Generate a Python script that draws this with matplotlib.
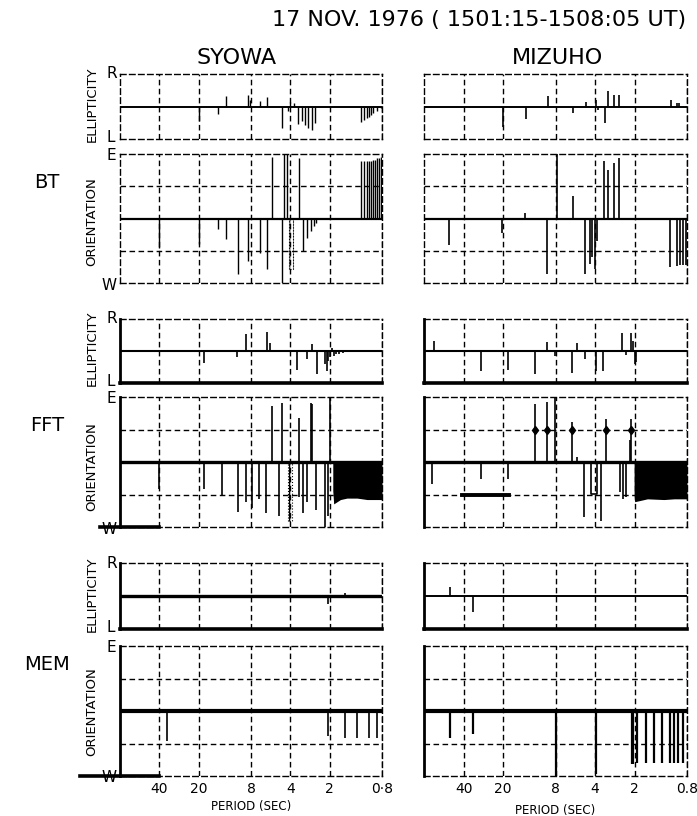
import matplotlib
matplotlib.use("Agg")
import matplotlib.pyplot as plt
from matplotlib.ticker import NullLocator

W_PX, H_PX = 697, 816

PERIOD_TICKS = [40, 20, 8, 4, 2, 0.8]
TICK_LABELS_SY = ["40", "20", "8", "4", "2", "0·8"]
TICK_LABELS_MZ = ["40", "20", "8", "4", "2", "0.8"]

# ---- BT ----
SY_BT_ELL_P = [20, 14.3, 12.5, 8.4, 8.1, 6.8, 6.05, 4.65, 4.14, 4.0, 3.79, 3.53, 3.27, 3.09,
               2.94, 2.74, 2.59, 1.15, 1.10, 1.05, 1.01, 0.97, 0.93, 0.87, 0.82]
SY_BT_ELL_V = [-0.46, -0.24, 0.31, 0.34, 0.2, 0.18, 0.28, -0.65, -0.15, 0.15, 0.1, -0.55, -0.44,
               -0.57, -0.67, -0.72, -0.52, -0.48, -0.41, -0.36, -0.31, -0.26, -0.21, -0.13, -0.05]
SY_BT_ORI_P = [5.55, 4.44, 4.26, 3.47, 1.15, 1.10, 1.05, 1.01, 0.97, 0.93, 0.90, 0.87, 0.85,
               0.82, 0.80, 40, 20, 14.3, 12.5, 10, 8.4, 6.8, 6.05, 4.65, 3.21, 3.0, 2.78, 2.65, 2.55]
SY_BT_ORI_V = [86, 90, 90, 85, 80, 80, 80, 80, 80, 82, 82, 84, 84, 86, 86,
               -41, -36, -15, -28, -78, -59, -48, -71, -90, -45, -27, -18, -10, -6]
SY_BT_HATCH = [4.1, 3.85, -71]

MZ_BT_ELL_P = [20, 13.4, 9.15, 5.9, 4.67, 3.92, 3.8, 3.39, 3.21, 2.85, 2.65, 1.06, 0.96, 0.92]
MZ_BT_ELL_V = [-0.64, -0.39, 0.33, -0.2, 0.15, 0.2, -0.12, -0.52, 0.49, 0.36, 0.36, 0.19, 0.12, 0.1]
MZ_BT_ORI_P = [13.6, 7.83, 5.94, 3.40, 3.21, 2.86, 2.65, 51.3, 20.5, 9.3, 4.75, 4.35, 4.2, 4.04,
               3.88, 1.07, 0.96, 0.91, 0.86, 0.82]
MZ_BT_ORI_V = [8, 90, 32, 80, 68, 78, 85, -37, -20, -78, -78, -63, -54, -71, -32,
               -68, -66, -65, -65, -65]

# ---- FFT ----
SY_FFT_ELL_P = [18.4, 10.2, 8.76, 6.05, 5.7, 3.57, 3.0, 2.74, 2.51, 2.17, 2.1, 2.05, 1.98,
                1.92, 1.85, 1.78, 1.7, 1.6]
SY_FFT_ELL_V = [-0.39, -0.2, 0.52, 0.59, 0.26, -0.59, -0.26, 0.21, -0.73, -0.42, -0.62, -0.3,
                -0.2, 0.1, -0.15, -0.1, -0.08, -0.05]
SY_FFT_ORI_P = [5.55, 4.65, 3.47, 2.78, 2.74, 1.99, 40.2, 18.4, 13.4, 10, 8.76, 7.9, 6.94, 6.12,
                4.93, 3.47, 3.21, 3.0, 2.54, 2.17, 2.05]
SY_FFT_ORI_V = [78, 82, 61, 82, 80, 90, -37, -37, -45, -69, -56, -63, -51, -70,
                -75, -49, -71, -56, -66, -90, -75]
SY_FFT_HATCH = [4.2, 3.9, -82]
SY_FFT_BLOCK_P = [1.9, 1.87, 1.66, 1.48, 1.24, 1.04, 0.8]
SY_FFT_BLOCK_LO = [-40, -58, -52, -50, -50, -52, -52]
SY_FFT_W_BAR = [114, 40]

MZ_FFT_ELL_P = [67, 29.3, 18.4, 11.4, 9.3, 8.05, 6.0, 5.5, 4.76, 3.96, 3.46, 2.51, 2.33,
                2.14, 2.05, 2.0, 1.95]
MZ_FFT_ELL_V = [0.31, -0.64, -0.59, -0.72, 0.29, -0.15, -0.70, 0.26, -0.26, -0.62, -0.62,
                0.57, -0.12, 0.57, 0.3, -0.4, -0.35]
MZ_FFT_ORI_P = [11.4, 9.3, 8.05, 5.96, 5.5, 3.33, 2.14, 2.18, 69, 29.3, 18.4, 4.82, 3.60,
                2.59, 2.47, 2.33]
MZ_FFT_ORI_V = [81, 83, 90, 55, 7, 60, 60, 30, -30, -23, -23, -76, -81, -42, -51, -48]
MZ_FFT_DIAMOND_P = [11.4, 9.3, 5.96, 3.33, 2.14]
MZ_FFT_BOX_P = [4.3, 4.3, 3.89, 3.89]
MZ_FFT_BOX_V = [0, -44, -44, 0]
MZ_FFT_BAR = [41, 18.2, -45]
MZ_FFT_BLOCK_P = [2.02, 2.0, 1.6, 1.2, 1.0, 0.8]
MZ_FFT_BLOCK_LO = [-45, -55, -51, -52, -51, -51]

# ---- MEM ----
SY_MEM_ELL_P = [2.08, 1.54]
SY_MEM_ELL_V = [-0.25, 0.1]
SY_MEM_ORI_P = [34.8, 2.08, 1.53, 1.24, 1.01, 0.87]
SY_MEM_ORI_V = [-41, -35, -37, -37, -37, -37]
SY_MEM_W_BAR = [161, 40]

MZ_MEM_ELL_P = [50.7, 33.7]
MZ_MEM_ELL_V = [0.27, -0.47]
MZ_MEM_ORI_P = [50.7, 34, 7.9, 3.94, 2.10, 2.05, 1.92, 1.63, 1.42, 1.23, 1.08, 1.0, 0.93, 0.86]
MZ_MEM_ORI_V = [-37, -32, -90, -87, -74, -74, -72, -72, -72, -72, -72, -72, -72, -72]

DASH = (0, (4, 2.5))


def box(x0, x1, y0, y1):
	return [x0 / W_PX, 1 - y1 / H_PX, (x1 - x0) / W_PX, (y1 - y0) / H_PX]


def frame(ax, kind, labels=None, solid_left=False, solid_bottom=False, base_lw=1.5):
	ax.set_xscale("log")
	ax.set_xlim(80, 0.8)
	lim = 1 if kind == "ell" else 90
	ax.set_ylim(-lim, lim)
	ax.xaxis.set_minor_locator(NullLocator())
	ax.yaxis.set_minor_locator(NullLocator())
	ax.set_xticks(PERIOD_TICKS)
	ax.set_xticklabels(labels if labels else [])
	ax.set_yticks([] if kind == "ell" else [-45, 45])
	ax.set_yticklabels([])
	ax.tick_params(length=0, labelsize=10, pad=4)
	ax.grid(True, color="black", lw=1.0, ls=DASH)
	for s in ax.spines.values():
		s.set_linestyle(DASH)
		s.set_linewidth(1.0)
	if solid_left:
		ax.spines["left"].set_linestyle("-")
		ax.spines["left"].set_linewidth(2.0)
	if solid_bottom:
		ax.spines["bottom"].set_linestyle("-")
		ax.spines["bottom"].set_linewidth(2.6)
	ax.axhline(0, color="black", lw=base_lw)
	ax.patch.set_visible(False)


def spikes(ax, P, V, lw=1.2):
	ax.vlines(P, 0, V, color="black", lw=lw)


def hatch(ax, h):
	ax.fill_between([h[0], h[1]], 0, h[2], facecolor="none", edgecolor="black",
	                hatch="||||", lw=0.8, ls=":")


fig = plt.figure(figsize=(W_PX / 100, H_PX / 100), dpi=100)

LX = (120, 382)
RX = (424, 687)
ROWS = {
	"BT": ((74, 139), (154, 283)),
	"FFT": ((319, 383), (397, 527)),
	"MEM": ((563, 629), (646, 776)),
}

# BT
(e0, e1), (o0, o1) = ROWS["BT"]
ax = fig.add_axes(box(*LX, e0, e1)); frame(ax, "ell", base_lw=1.4)
spikes(ax, SY_BT_ELL_P, SY_BT_ELL_V, lw=1.0)
ax = fig.add_axes(box(*LX, o0, o1)); frame(ax, "ori", base_lw=1.6)
spikes(ax, SY_BT_ORI_P, SY_BT_ORI_V, lw=1.0)
hatch(ax, SY_BT_HATCH)
ax = fig.add_axes(box(*RX, e0, e1)); frame(ax, "ell", base_lw=1.4)
spikes(ax, MZ_BT_ELL_P, MZ_BT_ELL_V)
ax = fig.add_axes(box(*RX, o0, o1)); frame(ax, "ori", base_lw=1.6)
spikes(ax, MZ_BT_ORI_P, MZ_BT_ORI_V)

# FFT
(e0, e1), (o0, o1) = ROWS["FFT"]
ax = fig.add_axes(box(*LX, e0, e1)); frame(ax, "ell", solid_left=True, solid_bottom=True)
spikes(ax, SY_FFT_ELL_P, SY_FFT_ELL_V)
ax = fig.add_axes(box(*LX, o0, o1)); frame(ax, "ori", solid_left=True, base_lw=2.4)
spikes(ax, SY_FFT_ORI_P, SY_FFT_ORI_V)
hatch(ax, SY_FFT_HATCH)
ax.fill_between(SY_FFT_BLOCK_P, 0, SY_FFT_BLOCK_LO, color="black", lw=0)
ax.plot(SY_FFT_W_BAR, [-90, -90], color="black", lw=2.6, clip_on=False)
ax = fig.add_axes(box(*RX, e0, e1)); frame(ax, "ell", solid_left=True, solid_bottom=True)
spikes(ax, MZ_FFT_ELL_P, MZ_FFT_ELL_V)
ax = fig.add_axes(box(*RX, o0, o1)); frame(ax, "ori", solid_left=True, base_lw=2.4)
spikes(ax, MZ_FFT_ORI_P, MZ_FFT_ORI_V)
ax.plot(MZ_FFT_DIAMOND_P, [45] * len(MZ_FFT_DIAMOND_P), "d", color="black", ms=4.5)
ax.plot(MZ_FFT_BOX_P, MZ_FFT_BOX_V, color="black", lw=1.2)
ax.plot(MZ_FFT_BAR[:2], [MZ_FFT_BAR[2]] * 2, color="black", lw=2.8)
ax.fill_between(MZ_FFT_BLOCK_P, 0, MZ_FFT_BLOCK_LO, color="black", lw=0)

# MEM
(e0, e1), (o0, o1) = ROWS["MEM"]
ax = fig.add_axes(box(*LX, e0, e1))
frame(ax, "ell", solid_left=True, solid_bottom=True, base_lw=2.4)
spikes(ax, SY_MEM_ELL_P, SY_MEM_ELL_V)
ax = fig.add_axes(box(*LX, o0, o1))
frame(ax, "ori", labels=TICK_LABELS_SY, solid_left=True, base_lw=3.0)
spikes(ax, SY_MEM_ORI_P, SY_MEM_ORI_V)
ax.plot(SY_MEM_W_BAR, [-90, -90], color="black", lw=2.6, clip_on=False)
ax.set_xlabel("PERIOD (SEC)", fontsize=8.5, labelpad=3)
ax = fig.add_axes(box(*RX, e0, e1))
frame(ax, "ell", solid_left=True, solid_bottom=True, base_lw=1.4)
spikes(ax, MZ_MEM_ELL_P, MZ_MEM_ELL_V)
ax = fig.add_axes(box(*RX, o0, o1))
frame(ax, "ori", labels=TICK_LABELS_MZ, solid_left=True, base_lw=3.0)
spikes(ax, MZ_MEM_ORI_P, MZ_MEM_ORI_V, lw=1.6)
ax.set_xlabel("PERIOD (SEC)", fontsize=8.5, labelpad=6)


def txt(x, y, s, **kw):
	fig.text(x / W_PX, 1 - y / H_PX, s, **kw)


txt(272, 20, "17 NOV. 1976 ( 1501:15-1508:05 UT)", fontsize=16, ha="left", va="center")
txt(237, 58, "SYOWA", fontsize=16, ha="center", va="center")
txt(557, 58, "MIZUHO", fontsize=16, ha="center", va="center")

for name, yc in [("BT", 183), ("FFT", 425), ("MEM", 665)]:
	txt(47, yc, name, fontsize=14, ha="center", va="center")

LETTERS = [
	(104, 222, 74, 139, 154, 283),
	(348, 467, 319, 383, 397, 527),
	(594, 712, 563, 629, 646, 776),
]
for ell_c, ori_c, et, eb, ot, ob in LETTERS:
	txt(92, ell_c, "ELLIPTICITY", fontsize=9.5, rotation=90, ha="center", va="center")
	txt(92, ori_c, "ORIENTATION", fontsize=9.5, rotation=90, ha="center", va="center")
	txt(112, et, "R", fontsize=11, ha="center", va="center")
	txt(111, eb - 2, "L", fontsize=11, ha="center", va="center")
	txt(111, ot + 1, "E", fontsize=11, ha="center", va="center")
	txt(109, ob + 2, "W", fontsize=11, ha="center", va="center")

fig.savefig("out.png", dpi=100)
